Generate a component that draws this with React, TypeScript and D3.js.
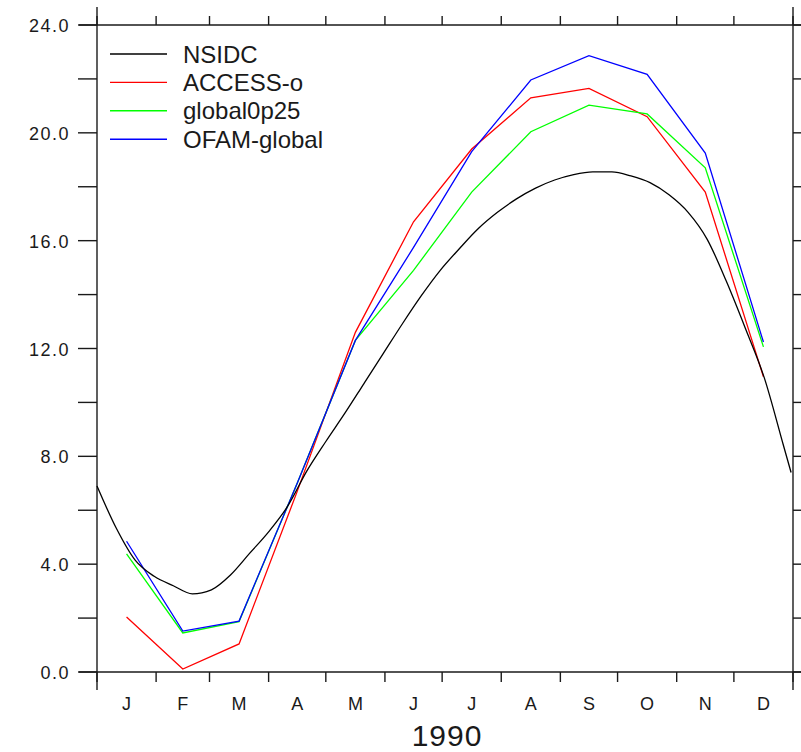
import React, { useEffect, useRef } from 'react';
import * as d3 from 'd3';

// month letters along the time axis
const monthLabels = ["J", "F", "M", "A", "M", "J", "J", "A", "S", "O", "N", "D"];

// monthly model means (plotted at mid-month)
const accessO = [2.04, 0.11, 1.04, 6.7, 12.6, 16.7, 19.4, 21.3, 21.65, 20.6, 17.8, 10.95];
const global0p25 = [4.38, 1.45, 1.87, 7.0, 12.3, 14.9, 17.8, 20.04, 21.03, 20.7, 18.7, 12.06];
const ofamGlobal = [4.85, 1.52, 1.89, 7.0, 12.3, 15.75, 19.3, 21.96, 22.86, 22.17, 19.25, 12.24];

// NSIDC observations, day of year -> value
const nsidcDays = [0, 10, 20, 30, 40, 50, 60, 70, 80, 90, 100, 110, 120, 130, 140, 150, 160, 170, 180,
  190, 200, 210, 220, 230, 240, 250, 260, 270, 280, 290, 300, 310, 320, 330, 340, 350, 360, 364];
const nsidcValues = [6.9, 5.35, 4.15, 3.55, 3.2, 2.9, 3.05, 3.6, 4.4, 5.2, 6.15, 7.45, 8.55, 9.6, 10.7, 11.8,
  12.9, 13.95, 14.9, 15.7, 16.45, 17.05, 17.55, 17.95, 18.25, 18.45, 18.55, 18.55, 18.4, 18.15, 17.7, 17.05,
  16.05, 14.5, 12.75, 10.9, 8.4, 7.4];

const yTicks = [0, 4, 8, 12, 16, 20, 24];
const yMinorTicks = [2, 6, 10, 14, 18, 22];

const legendNames = ["NSIDC", "ACCESS-o", "global0p25", "OFAM-global"];
const legendColors = ["#000000", "#ff0000", "#00ff00", "#0000ff"];

const App = () => {
  const ref = useRef<SVGSVGElement | null>(null);

  useEffect(() => {
    const W = 801, H = 752;
    const margin = { top: 25, right: 8, bottom: 80, left: 97 };
    const width = W - margin.left - margin.right;
    const height = H - margin.top - margin.bottom;
    const font = "'Liberation Sans', Arial, sans-serif";
    const ink = "#1a1a1a";

    const svg = d3.select(ref.current);
    svg.selectAll("*").remove();
    svg.append("rect").attr("width", W).attr("height", H).attr("fill", "#fff");

    const g = svg.append("g").attr("transform", `translate(${margin.left},${margin.top})`);

    const start = new Date(1990, 0, 1);
    const end = new Date(1991, 0, 1);
    const x = d3.scaleTime().domain([start, end]).range([0, width]);
    const y = d3.scaleLinear().domain([0, 24]).range([height, 0]);

    const monthStarts = d3.timeMonth.range(start, end);
    const boundaries = d3.timeMonth.range(start, d3.timeDay.offset(end, 1));
    const mids = monthStarts.map(m => new Date((m.getTime() + d3.timeMonth.offset(m, 1).getTime()) / 2));

    // frame, extended past corners
    const ext = 18;
    const frame = g.append("g").attr("stroke", ink).attr("stroke-width", 1.4);
    frame.append("line").attr("x1", -ext).attr("x2", width + ext).attr("y1", 0).attr("y2", 0);
    frame.append("line").attr("x1", -ext).attr("x2", width + ext).attr("y1", height).attr("y2", height);
    frame.append("line").attr("x1", 0).attr("x2", 0).attr("y1", -ext).attr("y2", height + ext);
    frame.append("line").attr("x1", width).attr("x2", width).attr("y1", -ext).attr("y2", height + ext);

    // y ticks, outward on both sides
    const allY = yTicks.concat(yMinorTicks);
    allY.forEach(v => {
      frame.append("line").attr("x1", -19).attr("x2", 0).attr("y1", y(v)).attr("y2", y(v));
      frame.append("line").attr("x1", width).attr("x2", width + 19).attr("y1", y(v)).attr("y2", y(v));
    });

    // x ticks at month boundaries, top and bottom
    boundaries.forEach(d => {
      frame.append("line").attr("x1", x(d)).attr("x2", x(d)).attr("y1", height).attr("y2", height + 10);
      frame.append("line").attr("x1", x(d)).attr("x2", x(d)).attr("y1", -9).attr("y2", 0);
    });

    g.selectAll(".ylab")
      .data(yTicks)
      .enter()
      .append("text")
      .attr("x", -27)
      .attr("y", d => y(d) + 7)
      .attr("text-anchor", "end")
      .attr("font-family", font)
      .attr("font-size", 18)
      .attr("letter-spacing", 1.5)
      .attr("fill", ink)
      .text(d => d.toFixed(1));

    g.selectAll(".xlab")
      .data(mids)
      .enter()
      .append("text")
      .attr("x", d => x(d))
      .attr("y", height + 38)
      .attr("text-anchor", "middle")
      .attr("font-family", font)
      .attr("font-size", 18)
      .attr("fill", ink)
      .text((d, i) => monthLabels[i]);

    g.append("text")
      .attr("x", 447 - margin.left)
      .attr("y", H - margin.top - 6)
      .attr("text-anchor", "middle")
      .attr("font-family", font)
      .attr("font-size", 30)
      .attr("letter-spacing", 1)
      .attr("fill", ink)
      .text("1990");

    // data lines
    const nsidc = nsidcDays.map((d, i) => ({ date: d3.timeDay.offset(start, d), v: nsidcValues[i] }));
    const smooth = d3.line<{ date: Date; v: number }>()
      .x(d => x(d.date))
      .y(d => y(d.v))
      .curve(d3.curveMonotoneX);
    const straight = d3.line<{ date: Date; v: number }>()
      .x(d => x(d.date))
      .y(d => y(d.v));

    const models = [accessO, global0p25, ofamGlobal];
    models.forEach((vals, k) => {
      g.append("path")
        .datum(vals.map((v, i) => ({ date: mids[i], v })))
        .attr("d", straight)
        .attr("fill", "none")
        .attr("stroke", legendColors[k + 1])
        .attr("stroke-width", 1.3);
    });

    g.append("path")
      .datum(nsidc)
      .attr("d", smooth)
      .attr("fill", "none")
      .attr("stroke", legendColors[0])
      .attr("stroke-width", 1.3);

    // legend
    const lg = svg.append("g");
    legendNames.forEach((name, i) => {
      const ly = 54 + i * 28.4;
      lg.append("line")
        .attr("x1", 110).attr("x2", 167)
        .attr("y1", ly).attr("y2", ly)
        .attr("stroke", legendColors[i])
        .attr("stroke-width", 1.4);
      lg.append("text")
        .attr("x", 183)
        .attr("y", ly + 8.5)
        .attr("font-family", font)
        .attr("font-size", 24)
        .attr("fill", ink)
        .text(name);
    });
  }, []);

  return (
    <svg ref={ref} width={801} height={752}
      style={{ position: "absolute", left: 0, top: 0, display: "block" }} />
  );
};

export default App;
